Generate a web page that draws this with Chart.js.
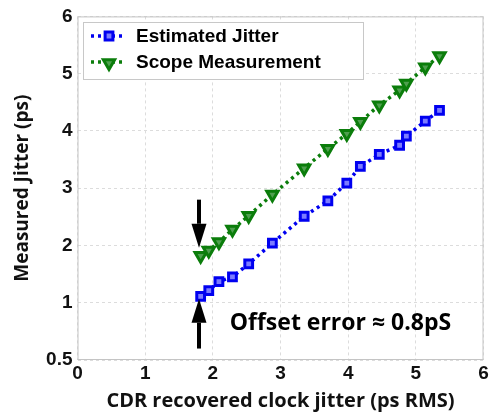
<!DOCTYPE html>
<html>
<head>
<meta charset="utf-8">
<script src="https://cdn.jsdelivr.net/npm/chart.js@4.4.0/dist/chart.umd.min.js"></script>
<style>
  html, body { margin: 0; padding: 0; background: #fff; }
  #wrap { width: 493px; height: 416px; }
</style>
</head>
<body>
<div id="wrap"><canvas id="jitterChart" width="493" height="416"></canvas></div>
<script>
/* ================================
   Data
================================ */
const cdrJitter = [1.82, 1.94, 2.09, 2.29, 2.53, 2.88, 3.35, 3.70, 3.98, 4.18, 4.46, 4.76, 4.86, 5.14, 5.35];
const estimatedJitter = [1.11, 1.21, 1.37, 1.45, 1.68, 2.04, 2.51, 2.78, 3.09, 3.38, 3.59, 3.75, 3.91, 4.17, 4.36];
const scopeJitter = [1.82, 1.91, 2.06, 2.28, 2.52, 2.89, 3.35, 3.69, 3.95, 4.16, 4.45, 4.71, 4.83, 5.11, 5.31];

const xTicks = [0, 1, 2, 3, 4, 5, 6];
const yTicks = [0, 1, 2, 3, 4, 5, 6];
const yTickLabels = ["0.5", "1", "2", "3", "4", "5", "6"];
const seriesNames = ["Estimated Jitter", "Scope Measurement"];

const offsetNote = "Offset error \u2248 0.8pS";

/* ================================
   Styles
================================ */
const BLUE = "#0000f0";
const GREEN = "#0b7d0b";
const GRID = "#dcdcdc";
const TICK_FONT = { family: "Liberation Sans, Arial, sans-serif", size: 19, weight: "bold" };

function pairs(ys) {
  return cdrJitter.map((x, i) => ({ x, y: ys[i] }));
}

/* ================================
   Plot frame (all four edges)
================================ */
const framePlugin = {
  id: "frame",
  beforeDatasetsDraw(chart) {
    const { ctx, chartArea: a } = chart;
    ctx.save();
    ctx.strokeStyle = "#c4c4c4";
    ctx.lineWidth = 1;
    ctx.strokeRect(a.left + 0.5, a.top + 0.5, a.right - a.left - 1, a.bottom - a.top - 1);
    ctx.restore();
  }
};

/* ================================
   Legend box inside the axes
================================ */
const boxLegendPlugin = {
  id: "boxLegend",
  afterDraw(chart) {
    const { ctx } = chart;
    const x0 = 83, y0 = 22, w = 280, h = 57;
    ctx.save();
    ctx.fillStyle = "#fff";
    ctx.fillRect(x0, y0, w, h);
    ctx.strokeStyle = "#c8c8c8";
    ctx.lineWidth = 1;
    ctx.strokeRect(x0 + 0.5, y0 + 0.5, w, h);

    const rows = [y0 + 14, y0 + 40];
    chart.data.datasets.forEach((ds, i) => {
      const cy = rows[i];
      ctx.strokeStyle = ds.borderColor;
      ctx.lineWidth = ds.borderWidth;
      ctx.setLineDash(ds.borderDash);
      ctx.beginPath();
      ctx.moveTo(91, cy);
      ctx.lineTo(126, cy);
      ctx.stroke();
      ctx.setLineDash([]);
      ctx.fillStyle = ds.pointBackgroundColor;
      ctx.strokeStyle = ds.pointBorderColor;
      ctx.lineWidth = ds.pointBorderWidth;
      Chart.helpers.drawPoint(ctx, {
        pointStyle: ds.pointStyle,
        rotation: ds.pointRotation || 0,
        radius: ds.pointRadius,
        borderWidth: ds.pointBorderWidth
      }, 109, cy + (i === 1 ? 1 : 0));
      ctx.fillStyle = "#000";
      ctx.font = "bold 19px Liberation Sans, Arial, sans-serif";
      ctx.textBaseline = "middle";
      ctx.fillText(ds.label, 136, cy + 1);
    });
    ctx.restore();
  }
};

/* ================================
   Offset arrows + note
================================ */
function drawArrow(ctx, x, yFrom, yTo) {
  const dir = yTo > yFrom ? 1 : -1;
  const headLen = 24, headHalf = 7.5;
  ctx.beginPath();
  ctx.moveTo(x, yFrom);
  ctx.lineTo(x, yTo - dir * headLen);
  ctx.stroke();
  ctx.beginPath();
  ctx.moveTo(x, yTo);
  ctx.lineTo(x - headHalf, yTo - dir * headLen);
  ctx.lineTo(x + headHalf, yTo - dir * headLen);
  ctx.closePath();
  ctx.fill();
}

const offsetPlugin = {
  id: "offsetNote",
  afterDatasetsDraw(chart) {
    const { ctx, scales: { x, y } } = chart;
    const ax = Math.round(x.getPixelForValue(1.8));
    ctx.save();
    ctx.strokeStyle = "#000";
    ctx.fillStyle = "#000";
    ctx.lineWidth = 4;
    drawArrow(ctx, ax, y.getPixelForValue(2.8), y.getPixelForValue(1.96));
    drawArrow(ctx, ax, y.getPixelForValue(0.2), y.getPixelForValue(1.07));
    ctx.font = "bold 23px Open Sans, sans-serif";
    ctx.textBaseline = "alphabetic";
    ctx.fillText(offsetNote, x.getPixelForValue(2.25), y.getPixelForValue(0.53));
    ctx.restore();
  }
};

/* ================================
   Chart
================================ */
new Chart(document.getElementById("jitterChart"), {
  type: "line",
  data: {
    datasets: [
      {
        label: seriesNames[0],
        data: pairs(estimatedJitter),
        borderColor: BLUE,
        borderWidth: 3.5,
        borderDash: [3, 4],
        pointStyle: "rect",
        pointRadius: 5.5,
        pointBorderWidth: 3,
        pointBackgroundColor: "#7c7cff",
        pointBorderColor: BLUE
      },
      {
        label: seriesNames[1],
        data: pairs(scopeJitter),
        borderColor: GREEN,
        borderWidth: 3.5,
        borderDash: [3, 4],
        pointStyle: "triangle",
        pointRotation: 180,
        pointRadius: 6.5,
        pointBorderWidth: 3,
        pointBackgroundColor: "#4f9f4f",
        pointBorderColor: GREEN
      }
    ]
  },
  options: {
    responsive: false,
    animation: false,
    layout: { padding: { top: 14, right: 7, left: 0, bottom: 0 } },
    plugins: {
      legend: { display: false },
      tooltip: { enabled: false }
    },
    scales: {
      x: {
        type: "linear",
        min: 0,
        max: 6,
        afterBuildTicks: s => { s.ticks = xTicks.map(v => ({ value: v })); },
        afterFit: s => { s.height = 56; },
        grid: { color: GRID, drawTicks: false },
        border: { display: false, dash: [3, 3] },
        ticks: { color: "#111", font: TICK_FONT, padding: 2 },
        title: {
          display: true,
          text: "CDR recovered clock jitter (ps RMS)",
          color: "#111",
          font: { family: "Open Sans, sans-serif", size: 20, weight: "bold" },
          padding: { top: 0, bottom: 3 }
        }
      },
      y: {
        type: "linear",
        min: 0,
        max: 6,
        afterBuildTicks: s => { s.ticks = yTicks.map(v => ({ value: v })); },
        afterFit: s => { s.width = 77.5; },
        grid: { color: GRID, drawTicks: false },
        border: { display: false, dash: [3, 3] },
        ticks: {
          color: "#111",
          font: TICK_FONT,
          padding: 5,
          callback: v => yTickLabels[yTicks.indexOf(v)]
        },
        title: {
          display: true,
          text: "Measured Jitter (ps)",
          color: "#111",
          font: { family: "Open Sans, sans-serif", size: 19, weight: "bold" },
          padding: { top: 11, bottom: 0 }
        }
      }
    }
  },
  plugins: [framePlugin, offsetPlugin, boxLegendPlugin]
});
</script>
</body>
</html>
